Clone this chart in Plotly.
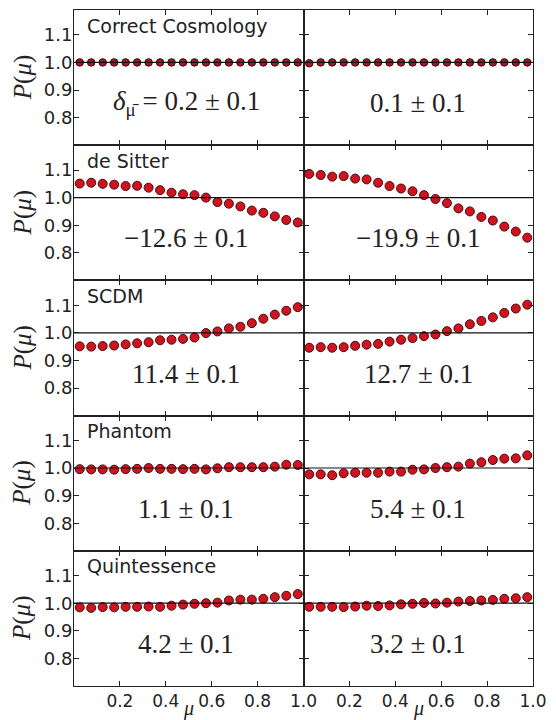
import plotly.graph_objects as go
from plotly.subplots import make_subplots

mu = [0.025, 0.075, 0.125, 0.175, 0.225, 0.275, 0.325, 0.375, 0.425, 0.475,
      0.525, 0.575, 0.625, 0.675, 0.725, 0.775, 0.825, 0.875, 0.925, 0.975]

models = ["Correct Cosmology", "de Sitter", "SCDM", "Phantom", "Quintessence"]

correct_left = [1.000, 1.000, 1.000, 1.000, 1.000, 1.000, 1.000, 1.000, 1.000, 1.000,
                1.000, 1.000, 1.000, 1.000, 1.000, 1.000, 1.000, 1.000, 1.000, 1.000]
correct_right = [0.997, 1.000, 1.000, 1.000, 1.000, 1.000, 1.000, 1.000, 1.000, 1.000,
                 1.000, 1.000, 1.000, 1.000, 1.000, 1.000, 1.000, 1.000, 1.000, 1.000]
desitter_left = [1.051, 1.054, 1.050, 1.047, 1.042, 1.043, 1.036, 1.027, 1.018, 1.012,
                 1.009, 1.000, 0.984, 0.978, 0.968, 0.953, 0.945, 0.932, 0.919, 0.910]
desitter_right = [1.086, 1.082, 1.076, 1.078, 1.069, 1.066, 1.054, 1.042, 1.033, 1.023,
                  1.009, 0.995, 0.980, 0.961, 0.950, 0.930, 0.917, 0.895, 0.877, 0.855]
scdm_left = [0.951, 0.950, 0.952, 0.954, 0.958, 0.962, 0.966, 0.973, 0.975, 0.978,
             0.983, 0.999, 1.005, 1.016, 1.022, 1.035, 1.051, 1.066, 1.080, 1.093]
scdm_right = [0.946, 0.948, 0.946, 0.948, 0.953, 0.957, 0.960, 0.968, 0.975, 0.981,
              0.988, 0.994, 1.006, 1.016, 1.031, 1.043, 1.056, 1.072, 1.088, 1.102]
phantom_left = [0.996, 0.995, 0.995, 0.994, 0.996, 0.997, 1.000, 0.997, 0.997, 0.996,
                0.997, 0.995, 0.999, 1.003, 1.003, 1.003, 1.003, 1.005, 1.012, 1.011]
phantom_right = [0.977, 0.977, 0.974, 0.981, 0.983, 0.983, 0.983, 0.987, 0.987, 0.994,
                 0.995, 1.000, 1.003, 1.005, 1.016, 1.021, 1.029, 1.034, 1.035, 1.046]
quint_left = [0.985, 0.983, 0.986, 0.985, 0.987, 0.987, 0.988, 0.987, 0.991, 0.995,
              0.998, 1.000, 1.002, 1.010, 1.013, 1.013, 1.016, 1.022, 1.027, 1.033]
quint_right = [0.987, 0.987, 0.987, 0.986, 0.988, 0.991, 0.990, 0.992, 0.996, 0.998,
               1.001, 0.999, 1.002, 1.006, 1.008, 1.010, 1.012, 1.016, 1.018, 1.022]

left_series = [correct_left, desitter_left, scdm_left, phantom_left, quint_left]
right_series = [correct_right, desitter_right, scdm_right, phantom_right, quint_right]

delta_left = ["0.2", "\u221212.6", "11.4", "1.1", "4.2"]
delta_right = ["0.1", "\u221219.9", "12.7", "5.4", "3.2"]
delta_err_left = ["0.1", "0.1", "0.1", "0.1", "0.1"]
delta_err_right = ["0.1", "0.1", "0.1", "0.1", "0.1"]

x_tick_vals = [0.2, 0.4, 0.6, 0.8, 1.0]
x_tick_text = ["0.2", "0.4", "0.6", "0.8", "1.0"]
y_tick_vals = [0.8, 0.9, 1.0, 1.1]
y_tick_text = ["0.8", "0.9", "1.0", "1.1"]

MATH = "Liberation Serif"
SANS = "DejaVu Sans"
INK = "#222222"

fig = make_subplots(rows=5, cols=2, shared_xaxes=True, shared_yaxes=True,
                    horizontal_spacing=0, vertical_spacing=0)

for r in range(5):
    for c, series in enumerate([left_series[r], right_series[r]]):
        if r == 0:
            mk = dict(size=7.5, color="#a3162a", line=dict(color="#3a070c", width=1))
        else:
            mk = dict(size=9, color="#d0141f", line=dict(color="#4a0a0e", width=1))
        fig.add_trace(go.Scatter(x=mu, y=series, mode="markers", marker=mk,
                                 hoverinfo="skip"), row=r + 1, col=c + 1)
        fig.add_hline(y=1.0, row=r + 1, col=c + 1,
                      line=dict(color="#111111", width=1.2), layer="above")

fig.update_xaxes(range=[0, 1], tickvals=x_tick_vals, ticktext=x_tick_text,
                 ticks="inside", ticklen=5, tickcolor=INK, tickwidth=1,
                 showline=True, linecolor=INK, linewidth=1, mirror="ticks",
                 showgrid=False, zeroline=False,
                 tickfont=dict(family=SANS, size=17, color=INK))
fig.update_yaxes(range=[0.7, 1.19], tickvals=y_tick_vals, ticktext=y_tick_text,
                 ticks="inside", ticklen=5, tickcolor=INK, tickwidth=1,
                 showline=True, linecolor=INK, linewidth=1, mirror="ticks",
                 showgrid=False, zeroline=False, ticklabelstandoff=-3,
                 tickfont=dict(family=SANS, size=18, color=INK))

ann = []
for r in range(5):
    il = r * 2 + 1
    ir = r * 2 + 2
    sl = "" if il == 1 else str(il)
    sr = str(ir)
    ann.append(dict(xref=f"x{sl} domain", yref=f"y{sl} domain", x=0.05, y=0.885,
                    xanchor="left", yanchor="middle", showarrow=False,
                    text=models[r], font=dict(family=SANS, size=19, color=INK)))
    if r == 0:
        tl = (f"<i>δ</i><sub>μ\u0304</sub> = {delta_left[r]} ± {delta_err_left[r]}")
    else:
        tl = f"{delta_left[r]} ± {delta_err_left[r]}"
    ann.append(dict(xref=f"x{sl} domain", yref=f"y{sl} domain", x=0.49, y=0.31,
                    xanchor="center", yanchor="middle", showarrow=False,
                    text=tl, font=dict(family=MATH, size=27, color=INK)))
    ann.append(dict(xref=f"x{sr} domain", yref=f"y{sr} domain", x=0.5, y=0.31,
                    xanchor="center", yanchor="middle", showarrow=False,
                    text=f"{delta_right[r]} ± {delta_err_right[r]}",
                    font=dict(family=MATH, size=27, color=INK)))
    ann.append(dict(xref="paper", yref=f"y{sl} domain", x=-0.112, y=0.5,
                    xanchor="center", yanchor="middle", showarrow=False,
                    textangle=-90, text="<i>P</i>(<i>μ</i>)",
                    font=dict(family=MATH, size=25, color=INK)))

for idx in ["9", "10"]:
    ann.append(dict(xref=f"x{idx} domain", yref="paper", x=0.5, y=-0.0147,
                    xanchor="center", yanchor="top", showarrow=False,
                    borderpad=0,
                    text="<i>μ</i>", font=dict(family=MATH, size=20, color=INK)))

fig.update_layout(width=556, height=720, showlegend=False,
                  margin=dict(l=74, r=19, t=9, b=30),
                  plot_bgcolor="white", paper_bgcolor="white",
                  annotations=ann)

fig.write_html("out.html")
